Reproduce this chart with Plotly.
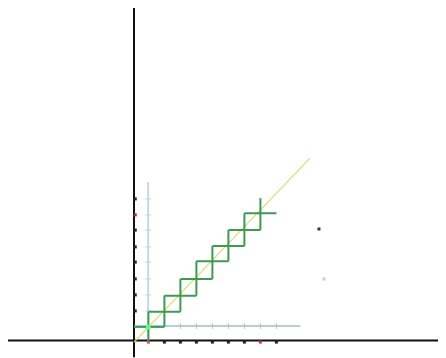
import plotly.graph_objects as go

# ---- data (units: one grid step) ----
# diagonal points of the staircase (crossing points)
stair_x = [0.9, 1.9, 2.9, 3.9, 4.9, 5.9, 6.9, 7.9]
stair_y = [0.85, 1.8, 2.8, 3.85, 4.95, 5.9, 6.9, 7.95]
stair_start = 0.0
stair_end = 8.9

# yellow reference line
diag_x = [0.0, 11.0]
diag_y = [-0.1, 11.4]

# outer axes extents
outer_x_extent = [-7.9, 19.1]
outer_y_extent = [-1.05, 21.1]

# inner (shifted) axes
inner_origin = [0.88, 0.9]
inner_x_end = 10.4
inner_y_end = 9.9

# tick dots
xtick_vals = [0.9, 1.9, 2.9, 3.9, 4.9, 5.9, 6.9, 7.9, 8.9]
xtick_colors = ["#b06060", "#222", "#222", "#222", "#222", "#222", "#222", "#c04040", "#222"]
ytick_vals = [1.85, 2.85, 3.85, 4.9, 5.85, 6.9, 7.85, 8.85]
ytick_colors = ["#222", "#222", "#222", "#222", "#222", "#222", "#b03030", "#222"]
inner_xtick_vals = [2.9, 3.9, 4.9, 5.9, 6.9, 7.9, 8.9]
inner_ytick_vals = [1.85, 2.85, 3.85, 4.9, 5.85, 6.9, 7.85, 8.85]
stray_x = [11.56, 11.87]
stray_y = [6.97, 3.84]
stray_colors = ["#333", "#cfcfcf"]

# ---- build figure ----
fig = go.Figure()

# outer axes
fig.add_trace(go.Scatter(x=outer_x_extent, y=[0, 0], mode="lines",
                         line=dict(color="#111", width=2), hoverinfo="skip"))
fig.add_trace(go.Scatter(x=[0, 0], y=outer_y_extent, mode="lines",
                         line=dict(color="#111", width=2), hoverinfo="skip"))

# inner axes
fig.add_trace(go.Scatter(x=[inner_origin[0], inner_origin[0]], y=[0, inner_y_end], mode="lines",
                         line=dict(color="#b4cfe0", width=1.5), hoverinfo="skip"))
fig.add_trace(go.Scatter(x=[0, inner_x_end], y=[inner_origin[1], inner_origin[1]], mode="lines",
                         line=dict(color="#9fc2c4", width=1.5), hoverinfo="skip"))

# inner tick marks
fig.add_trace(go.Scatter(x=inner_xtick_vals, y=[inner_origin[1]] * len(inner_xtick_vals), mode="markers",
                         marker=dict(symbol="line-ns", size=4, line=dict(color="#bbb", width=1)),
                         hoverinfo="skip"))
fig.add_trace(go.Scatter(x=[inner_origin[0]] * len(inner_ytick_vals), y=inner_ytick_vals, mode="markers",
                         marker=dict(symbol="line-ew", size=4, line=dict(color="#ccc", width=1)),
                         hoverinfo="skip"))

# yellow diagonal
fig.add_trace(go.Scatter(x=diag_x, y=diag_y, mode="lines",
                         line=dict(color="#dcdc70", width=1.2), hoverinfo="skip"))

# staircase segments built from the crossing points
xs_ext = [stair_start] + stair_x + [stair_end]
ys_ext = [stair_start] + stair_y + [stair_end]
seg_x, seg_y = [], []
for k in range(len(stair_x)):
    seg_x += [xs_ext[k], xs_ext[k + 2], None]
    seg_y += [stair_y[k], stair_y[k], None]
    seg_x += [stair_x[k], stair_x[k], None]
    seg_y += [ys_ext[k], ys_ext[k + 2], None]
fig.add_trace(go.Scatter(x=seg_x, y=seg_y, mode="lines",
                         line=dict(color="#3c9a52", width=2), hoverinfo="skip"))

# bright green near the start
fig.add_trace(go.Scatter(x=[stair_x[0]], y=[stair_y[0]], mode="markers",
                         marker=dict(color="#55ff88", size=5), hoverinfo="skip"))

# tick dots on the outer axes
fig.add_trace(go.Scatter(x=xtick_vals, y=[-0.1] * len(xtick_vals), mode="markers",
                         marker=dict(symbol="square", size=3, color=xtick_colors), hoverinfo="skip"))
fig.add_trace(go.Scatter(x=[0.08] * len(ytick_vals), y=ytick_vals, mode="markers",
                         marker=dict(symbol="square", size=3, color=ytick_colors), hoverinfo="skip"))

# stray dots
fig.add_trace(go.Scatter(x=stray_x, y=stray_y, mode="markers",
                         marker=dict(symbol="square", size=3, color=stray_colors), hoverinfo="skip"))

# the page body has an 8px margin, so the figure is shrunk and shifted accordingly
PAGE_OFF = 8
W, H = 446 - PAGE_OFF, 358 - PAGE_OFF
ox, oy, unit = 134 - PAGE_OFF, 340.5 - PAGE_OFF, 16
fig.update_layout(
    width=W, height=H,
    margin=dict(l=0, r=0, t=0, b=0),
    paper_bgcolor="white", plot_bgcolor="white",
    showlegend=False,
    xaxis=dict(visible=False, range=[-ox / unit, (W - ox) / unit], fixedrange=True),
    yaxis=dict(visible=False, range=[-(H - oy) / unit, oy / unit], fixedrange=True),
)

fig.write_html("out.html", config=dict(displayModeBar=False))
